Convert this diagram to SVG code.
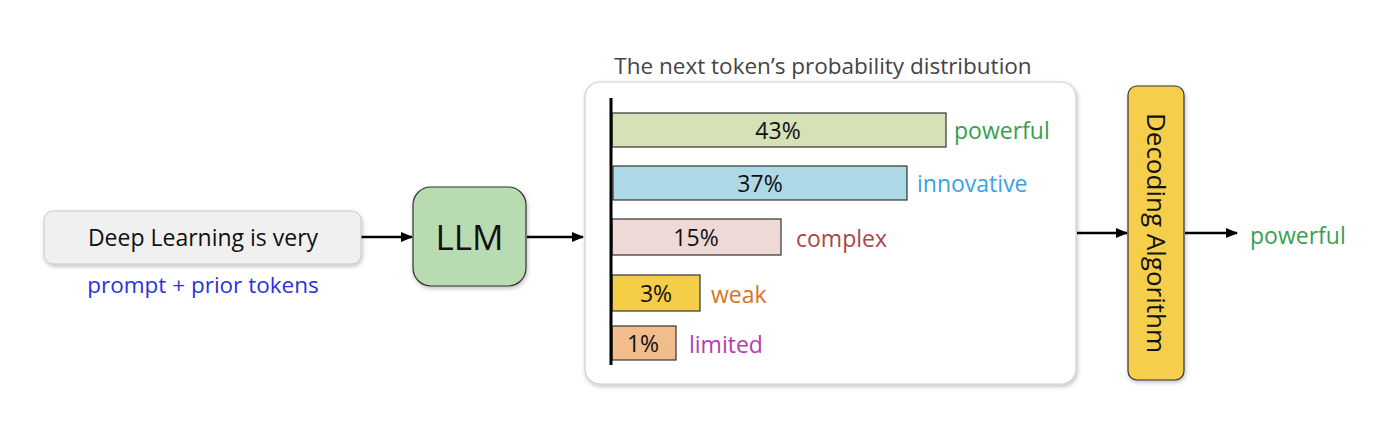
<svg xmlns="http://www.w3.org/2000/svg" width="1394" height="442" viewBox="0 0 1394 442">
<defs>
<filter id="sh" x="-10%" y="-10%" width="120%" height="130%">
<feDropShadow dx="1" dy="2" stdDeviation="2" flood-color="#000" flood-opacity="0.25"/>
</filter>
<marker id="ah" viewBox="0 0 10 10" refX="9" refY="5" markerWidth="5" markerHeight="5" orient="auto">
<path d="M0,1 L10,5 L0,9 z" fill="#000"/>
</marker>
</defs>
<style>
text{font-family:"Open Sans","Liberation Sans",sans-serif;}
.conn{stroke:#000;stroke-width:2.5;fill:none;marker-end:url(#ah);}
.bar{stroke:#333;stroke-width:1.2;}
.pct{font-size:23px;fill:#111;text-anchor:middle;}
.lbl{font-size:23px;}
</style>
<rect width="1394" height="442" fill="#fff"/>

<g id="connectors">
<line class="conn" x1="361" y1="237" x2="412" y2="237"/>
<line class="conn" x1="527" y1="237" x2="583" y2="237"/>
<line class="conn" x1="1077" y1="233" x2="1127" y2="233"/>
<line class="conn" x1="1185" y1="233" x2="1237" y2="233"/>
</g>

<g id="input">
<rect x="44" y="211" width="317" height="53" rx="9" fill="#f0f0f0" stroke="#c8c8c8" stroke-width="1" filter="url(#sh)"/>
<text x="203" y="246" font-size="23" fill="#111" text-anchor="middle">Deep Learning is very</text>
<text x="203" y="293" font-size="22.5" fill="#2b32e0" text-anchor="middle">prompt + prior tokens</text>
</g>

<g id="llm">
<rect x="413" y="187" width="113" height="99" rx="18" fill="#b8dbb2" stroke="#333" stroke-width="1.2" filter="url(#sh)"/>
<text x="469.5" y="250" font-size="35" fill="#111" text-anchor="middle">LLM</text>
</g>

<g id="distribution">
<text x="823" y="74" font-size="22.5" fill="#444" text-anchor="middle">The next token’s probability distribution</text>
<rect x="585" y="82" width="491" height="302" rx="15" fill="#fff" stroke="#cfcfcf" stroke-width="1.2" filter="url(#sh)"/>
<rect class="bar" x="612" y="113" width="334" height="34" fill="#d5e2b8"/>
<text class="pct" x="778" y="139">43%</text>
<text class="lbl" x="954" y="139" fill="#38a04e">powerful</text>
<rect class="bar" x="613" y="166" width="294" height="34" fill="#add8e6"/>
<text class="pct" x="760" y="192">37%</text>
<text class="lbl" x="917" y="192" fill="#3aa2e6">innovative</text>
<rect class="bar" x="612" y="219" width="169" height="36" fill="#eed9d7"/>
<text class="pct" x="696" y="246">15%</text>
<text class="lbl" x="796" y="247" fill="#a84848">complex</text>
<rect class="bar" x="612" y="275" width="88" height="36" fill="#f5ce48"/>
<text class="pct" x="656" y="302">3%</text>
<text class="lbl" x="711" y="303" fill="#d67422">weak</text>
<rect class="bar" x="612" y="326" width="64" height="34" fill="#f2bd8d"/>
<text class="pct" x="643" y="352">1%</text>
<text class="lbl" x="689" y="353" fill="#b43cb4">limited</text>
<line x1="611" y1="98" x2="611" y2="365" stroke="#000" stroke-width="3"/>
</g>

<g id="decoding">
<rect x="1128" y="86" width="56" height="294" rx="9" fill="#f5cf4c" stroke="#333" stroke-width="1.2" filter="url(#sh)"/>
<text transform="translate(1147,233) rotate(90)" font-size="26" fill="#111" text-anchor="middle">Decoding Algorithm</text>
</g>

<g id="output">
<text x="1250" y="244" font-size="23" fill="#38a04e">powerful</text>
</g>
</svg>
